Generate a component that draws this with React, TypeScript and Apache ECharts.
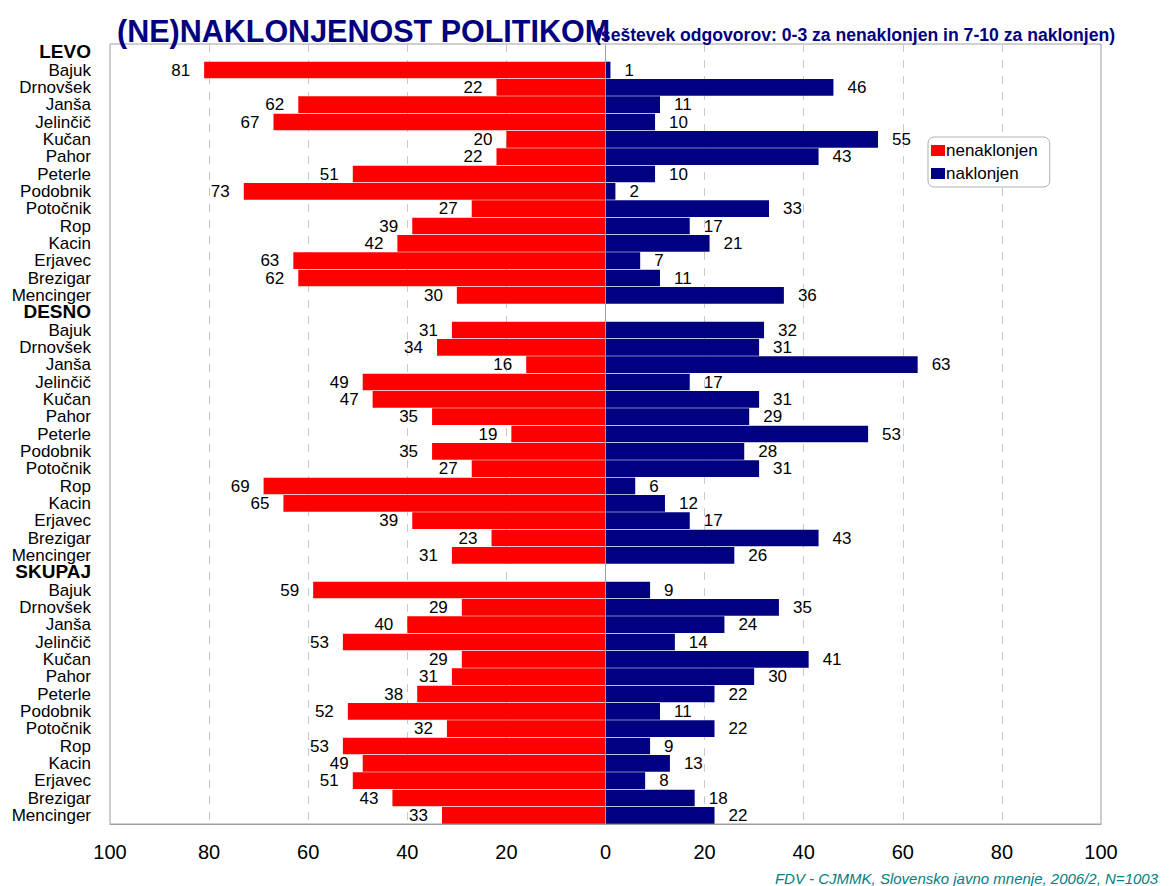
import React, { useEffect, useRef } from "react";
import * as echarts from "echarts";

const groups = ["LEVO", "DESNO", "SKUPAJ"];
const politicians = ["Bajuk", "Drnovšek", "Janša", "Jelinčič", "Kučan", "Pahor", "Peterle", "Podobnik", "Potočnik", "Rop", "Kacin", "Erjavec", "Brezigar", "Mencinger"];

const levoNe = [81, 22, 62, 67, 20, 22, 51, 73, 27, 39, 42, 63, 62, 30];
const levoNa = [1, 46, 11, 10, 55, 43, 10, 2, 33, 17, 21, 7, 11, 36];
const desnoNe = [31, 34, 16, 49, 47, 35, 19, 35, 27, 69, 65, 39, 23, 31];
const desnoNa = [32, 31, 63, 17, 31, 29, 53, 28, 31, 6, 12, 17, 43, 26];
const skupajNe = [59, 29, 40, 53, 29, 31, 38, 52, 32, 53, 49, 51, 43, 33];
const skupajNa = [9, 35, 24, 14, 41, 30, 22, 11, 22, 9, 13, 8, 18, 22];

export default function App() {
  const ref = useRef<HTMLDivElement>(null);
  useEffect(() => {
    if (!ref.current) return;
    const chart = echarts.init(ref.current, null, { renderer: "svg" });
    const neList = [levoNe, desnoNe, skupajNe];
    const naList = [levoNa, desnoNa, skupajNa];
    const cats: string[] = [];
    const labels: string[] = [];
    const isHeader: boolean[] = [];
    const ne: (number | null)[] = [];
    const na: (number | null)[] = [];
    groups.forEach((g, gi) => {
      cats.push("h" + gi);
      labels.push(g);
      isHeader.push(true);
      ne.push(null);
      na.push(null);
      politicians.forEach((p, pi) => {
        cats.push(gi + "_" + pi);
        labels.push(p);
        isHeader.push(false);
        ne.push(-neList[gi][pi]);
        na.push(naList[gi][pi]);
      });
    });
    const font = "Arial, 'Liberation Sans', sans-serif";
    chart.setOption({
      animation: false,
      textStyle: { fontFamily: font },
      title: [
        {
          text: "(NE)NAKLONJENOST POLITIKOM",
          left: 112,
          top: 10,
          textStyle: { color: "#000080", fontSize: 30.5, fontWeight: "bold", fontFamily: font },
        },
        {
          text: "(seštevek odgovorov: 0-3 za nenaklonjen in 7-10 za naklonjen)",
          left: 590,
          top: 21,
          textStyle: { color: "#000080", fontSize: 17.6, fontWeight: "bold", fontFamily: font },
        },
        {
          text: "FDV - CJMMK, Slovensko javno mnenje, 2006/2, N=1003",
          right: 6,
          top: 866,
          textStyle: { color: "#008080", fontSize: 15, fontStyle: "italic", fontWeight: "normal", fontFamily: font },
        },
      ],
      legend: {
        orient: "vertical",
        left: 928,
        top: 137,
        itemWidth: 14,
        itemHeight: 11,
        itemGap: 6,
        padding: [5, 12, 5, 3],
        borderColor: "#b0b0b0",
        borderWidth: 1,
        borderRadius: 6,
        backgroundColor: "#fff",
        textStyle: { fontSize: 17, color: "#000", padding: [0, 0, 0, -4] },
        data: [
          { name: "nenaklonjen", icon: "rect" },
          { name: "naklonjen", icon: "rect" },
        ],
      },
      grid: {
        left: 110,
        right: 68,
        top: 44,
        bottom: 62,
        show: true,
        borderColor: "#a0a0a0",
        borderWidth: 1,
        backgroundColor: "#fff",
      },
      xAxis: {
        type: "value",
        min: -100,
        max: 100,
        interval: 20,
        axisLine: { show: true, lineStyle: { color: "#a0a0a0" } },
        axisTick: { show: false },
        axisLabel: {
          fontSize: 20,
          color: "#000",
          margin: 18,
          formatter: (v: number) => String(Math.abs(v)),
        },
        splitLine: { show: true, lineStyle: { color: "#c8c8c8", type: [8, 8] } },
      },
      yAxis: {
        type: "category",
        inverse: true,
        data: cats,
        axisLine: { show: false },
        axisTick: { show: false },
        axisLabel: {
          margin: 19,
          interval: 0,
          formatter: (v: string) => {
            const i = cats.indexOf(v);
            return isHeader[i] ? "{h|" + labels[i] + "}" : "{n|" + labels[i] + "}";
          },
          rich: {
            h: { fontSize: 19, lineHeight: 16, padding: [0, 0, 3, 0], fontWeight: "bold", color: "#000", fontFamily: font },
            n: { fontSize: 17, lineHeight: 16, color: "#000", fontFamily: font },
          },
        },
      },
      series: [
        {
          name: "nenaklonjen",
          type: "bar",
          data: ne,
          barCategoryGap: "4%",
          barGap: "-100%",
          itemStyle: { color: "#ff0000" },
          label: {
            show: true,
            position: "left",
            distance: 14,
            fontSize: 17,
            color: "#000",
            formatter: (p: any) => (p.value == null ? "" : String(Math.abs(p.value))),
          },
          markLine: {
            silent: true,
            symbol: "none",
            label: { show: false },
            lineStyle: { color: "#a0a0a0", type: "solid", width: 1 },
            data: [{ xAxis: 0 }],
          },
        },
        {
          name: "naklonjen",
          type: "bar",
          data: na,
          barCategoryGap: "4%",
          barGap: "-100%",
          itemStyle: { color: "#000080" },
          label: {
            show: true,
            position: "right",
            distance: 14,
            fontSize: 17,
            color: "#000",
            formatter: (p: any) => (p.value == null ? "" : String(p.value)),
          },
        },
      ],
    });
    return () => chart.dispose();
  }, []);
  return <div ref={ref} style={{ width: 1169, height: 886, position: "absolute", left: 0, top: 0 }} />;
}
